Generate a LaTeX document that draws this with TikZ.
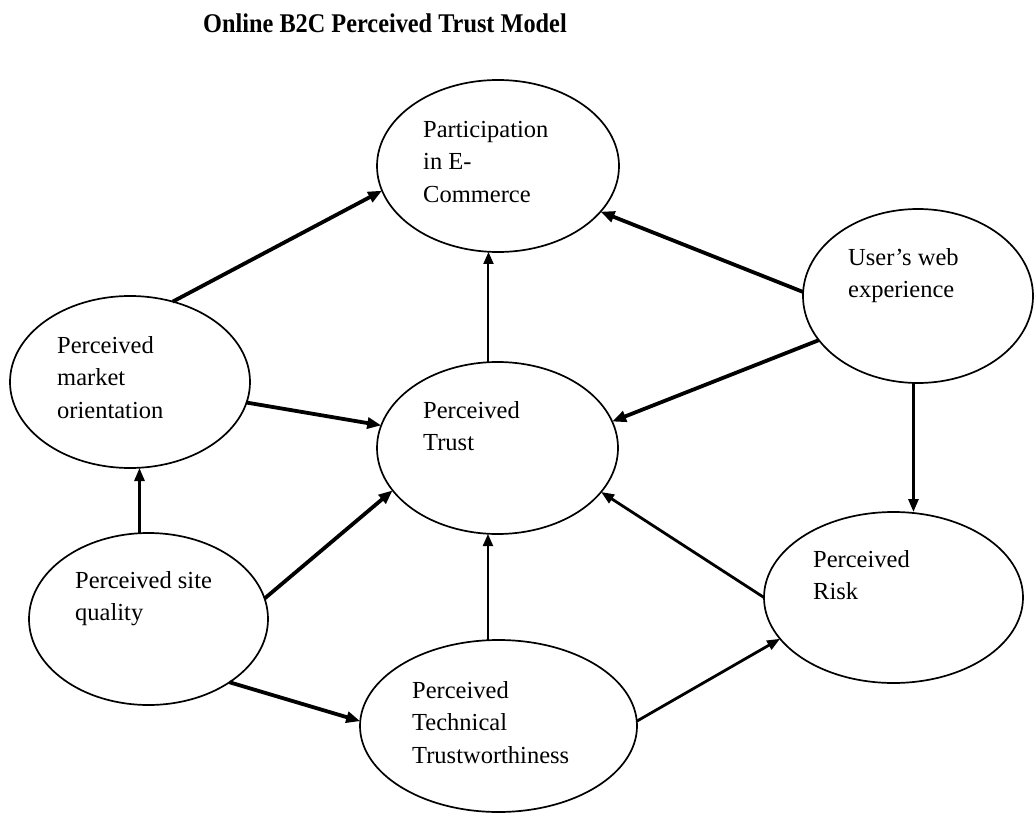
\documentclass[tikz,border=0pt]{standalone}
\usepackage{fontspec}
\setmainfont{Liberation Serif}
\usetikzlibrary{shapes.geometric,arrows.meta}
\begin{document}
\begin{tikzpicture}[x=1pt,y=-1pt,
  construct/.style={draw, ellipse, line width=1.7pt, inner sep=0pt, outer sep=0pt},
  caption/.style={font=\fontsize{24.5}{32.5}\selectfont, align=left, inner sep=0pt, anchor=north west},
  heading/.style={font=\fontsize{27}{30}\selectfont\bfseries, inner sep=0pt, anchor=base west},
  bold link/.style={line width=3.8pt, -{Triangle[length=14pt,width=11pt]}},
  mid link/.style={line width=2.8pt, -{Triangle[length=13pt,width=10pt]}},
  fine link/.style={line width=2pt, -{Triangle[length=12pt,width=10pt]}}]

% canvas
\fill[white] (0,0) rectangle (1034,813);
\useasboundingbox (0,0) rectangle (1034,813);

% title
\node[heading] (title) at (203,33) {\scalebox{0.9}[1]{Online B2C Perceived Trust Model}};

% constructs
\node[construct, minimum width=242pt, minimum height=172pt] (part)  at (498,166)   {};
\node[construct, minimum width=230pt, minimum height=174pt] (user)  at (918,296)   {};
\node[construct, minimum width=240pt, minimum height=172pt] (mkt)   at (130,382)   {};
\node[construct, minimum width=241pt, minimum height=172pt] (trust) at (497.5,448) {};
\node[construct, minimum width=239pt, minimum height=172pt] (site)  at (148.5,619) {};
\node[construct, minimum width=259pt, minimum height=171pt] (risk)  at (893.5,597.5) {};
\node[construct, minimum width=277pt, minimum height=172pt] (tech)  at (498.5,726) {};

% construct names
\node[caption] (partT)  at (423,121) {Participation\\in E-\\Commerce};
\node[caption] (userT)  at (848,248) {User’s web\\experience};
\node[caption] (mktT)   at (57,336)  {Perceived\\market\\orientation};
\node[caption] (trustT) at (423,401) {Perceived\\Trust};
\node[caption] (siteT)  at (75,571)  {Perceived site\\quality};
\node[caption] (riskT)  at (813,550) {Perceived\\Risk};
\node[caption] (techT)  at (412,681) {Perceived\\Technical\\Trustworthiness};

% relations
\draw[bold link] (mkt.62)   -- (part.192);
\draw[fine link] (trust.96) -- (trust.96 |- part.south);
\draw[bold link] (user.178) -- (part.336);
\draw[bold link] (user.204) -- (trust.13);
\draw[bold link] (mkt.350)  -- (trust.169);
\draw[mid link]  (user.267) -- (user.267 |- risk.north);
\draw[mid link]  (site.96)  -- (site.96 |- mkt.south);
\draw[bold link] (site.10)  -- (trust.202);
\draw[fine link] (tech.97)  -- (tech.97 |- trust.south);
\draw[mid link]  (risk.180) -- (trust.337);
\draw[bold link] (site.322) -- (tech.178);
\draw[mid link]  (tech.2)   -- (risk.200);
\end{tikzpicture}
\end{document}
